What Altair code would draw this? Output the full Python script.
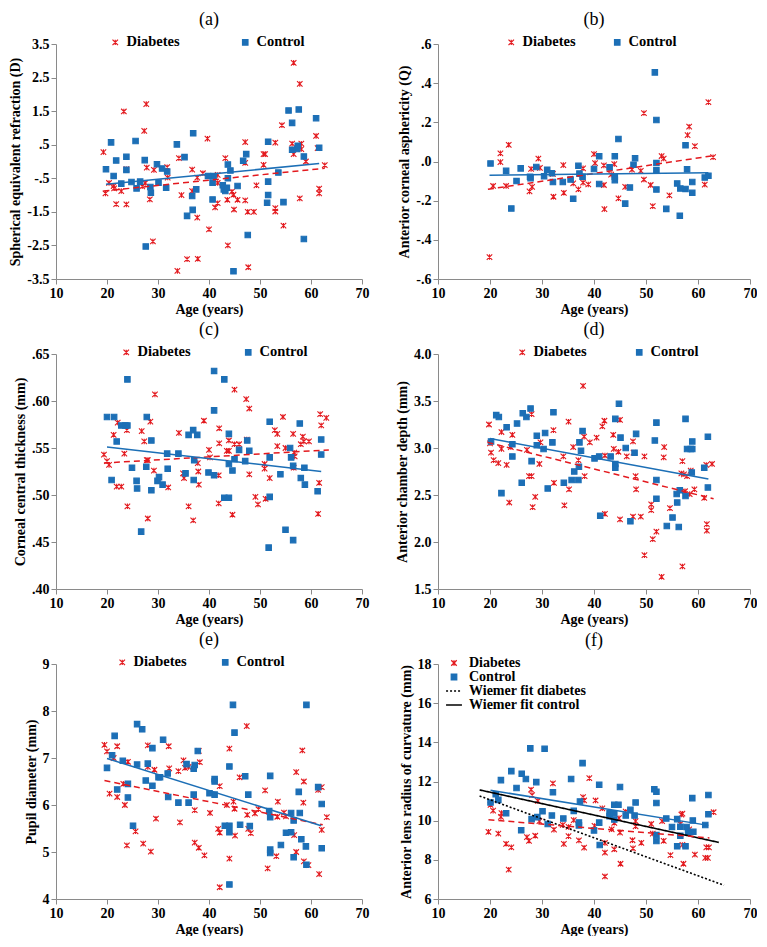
import altair as alt
import pandas as pd

FONT = "Liberation Serif"
RED = "#E3191E"
BLUE = "#1C6FB6"
STAR = "M-1,-1L1,1M-1,1L1,-1M0,-1L0,1"
LINE = "M-2.9,0L2.9,0"
AGE_TICKS = [10, 20, 30, 40, 50, 60, 70]
GROUPS = ["Diabetes", "Control"]
F_GROUPS = ["Diabetes", "Control", "Wiemer fit diabetes", "Wiemer fit control"]

# ---------------- (a) spherical equivalent refraction ----------------
A_TICKS = [-3.5, -2.5, -1.5, -0.5, 0.5, 1.5, 2.5, 3.5]
A_DIAB = [(19.3, 0.28), (19.7, -0.95), (20.4, -0.64), (21.3, -0.73), (21.4, -0.8), (21.8, -1.27),
          (22.8, -0.88), (23.3, 1.49), (23.8, -1.28), (23.8, -0.23), (26.9, -0.74), (27.3, 0.91),
          (27.7, 1.71), (27.8, -0.18), (27.5, -0.64), (28.4, -1.13), (29.0, -2.38), (29.2, -0.25),
          (31.8, -0.17), (31.9, -0.48), (33.8, -3.26), (34.1, 0.1), (34.6, -1.0), (35.7, -2.91),
          (36.7, -0.24), (36.7, -0.88), (37.7, -0.48), (37.7, -1.67), (37.8, -2.9), (38.8, -0.35),
          (39.7, 0.68), (40.0, -2.02), (41.2, -1.37), (41.7, -1.24), (41.7, -0.64), (41.7, -0.4),
          (43.2, 0.1), (43.6, -1.14), (43.7, -2.5), (44.5, -0.9), (44.8, -0.99), (44.9, -1.43),
          (45.6, -1.14), (47.1, -0.04), (47.1, 0.58), (47.1, -1.16), (47.6, -1.5), (47.7, -3.15),
          (48.8, -1.5), (49.3, -0.71), (50.7, 0.22), (51.0, 0.22), (50.7, -0.1), (53.0, 0.56),
          (53.0, -1.39), (53.0, -1.49), (54.3, 1.08), (54.6, -1.91), (56.3, 0.53), (56.6, 0.22),
          (56.6, 2.94), (57.8, -1.1), (57.8, 2.31), (58.1, 0.53), (58.1, 0.37), (59.0, 0.0),
          (61.0, 0.76), (61.3, 0.4), (61.6, -0.81), (61.6, -0.95), (62.7, -0.11)]
A_CTRL = [(19.8, -0.23), (20.8, 0.57), (21.3, -0.43), (21.8, 0.03), (23.8, 0.14), (23.8, -0.25),
          (22.8, -0.66), (24.8, -0.61), (25.6, 0.61), (25.8, -0.8), (26.5, -0.6), (27.4, 0.04),
          (27.6, -2.53), (28.5, -0.76), (28.6, -0.93), (29.8, -0.08), (30.1, -0.63), (30.8, -0.21),
          (31.6, -0.78), (31.8, -0.3), (33.7, 0.51), (35.2, 0.13), (35.7, -1.62), (36.9, 0.84),
          (36.7, -1.03), (36.8, -1.44), (37.5, -0.83), (39.8, -0.43), (40.7, -0.63), (40.7, -1.13),
          (40.9, -0.43), (42.7, -0.71), (42.9, -0.83), (43.2, -0.88), (43.5, -0.78), (43.7, -0.5),
          (43.7, -0.09), (44.2, -0.27), (44.8, -3.27), (45.6, -0.73), (46.7, 0.02), (47.3, 0.22),
          (47.6, -2.19), (51.4, -1.23), (51.6, 0.59), (51.6, -0.6), (51.6, -1.0), (53.6, -0.33),
          (54.6, -1.21), (55.6, 1.52), (56.3, 1.15), (56.3, 0.35), (57.3, 0.37), (57.4, 0.47),
          (57.6, 1.55), (58.6, 0.15), (58.6, -2.31), (61.0, 1.29), (61.6, 0.41)]
A_FIT_DIAB = [(19.3, -0.88), (62.7, -0.20)]
A_FIT_CTRL = [(19.8, -0.68), (61.6, -0.06)]

# ---------------- (b) anterior corneal asphericity ----------------
B_TICKS = [-0.6, -0.4, -0.2, 0.0, 0.2, 0.4, 0.6]
B_DIAB = [(19.9, -0.488), (20.6, -0.125), (22.0, 0.042), (22.0, -0.003), (23.1, -0.125), (23.6, 0.085),
          (27.6, -0.153), (27.9, -0.038), (28.1, -0.13), (29.3, 0.015), (29.6, -0.033), (32.1, -0.063),
          (32.2, -0.18), (34.1, -0.018), (34.2, -0.16), (36.0, -0.112), (37.0, -0.142), (37.9, -0.035),
          (37.9, -0.108), (38.9, -0.117), (40.0, 0.038), (40.2, -0.008), (41.9, -0.02), (41.9, -0.12),
          (42.0, -0.243), (43.3, -0.067), (43.9, -0.013), (44.7, -0.188), (46.0, -0.13), (47.3, -0.042),
          (49.0, -0.048), (49.6, -0.092), (49.6, 0.247), (50.9, -0.12), (51.3, -0.228), (53.0, 0.028),
          (53.4, 0.015), (54.5, -0.173), (58.0, 0.135), (58.3, 0.178), (59.4, 0.078), (61.3, -0.118),
          (62.0, 0.303), (62.9, 0.022)]
B_CTRL = [(20.1, -0.01), (23.1, -0.048), (24.1, -0.24), (25.1, -0.1), (25.9, -0.035), (27.7, -0.078),
          (27.8, -0.085), (28.9, -0.028), (30.4, -0.075), (31.0, -0.042), (31.9, -0.06), (32.1, -0.105),
          (34.0, -0.105), (35.5, -0.092), (36.0, -0.19), (37.0, -0.022), (37.2, -0.062), (37.8, -0.078),
          (40.0, -0.038), (41.0, 0.027), (41.0, -0.115), (43.0, -0.03), (44.0, 0.027), (44.0, -0.078),
          (44.0, -0.095), (44.7, 0.115), (46.0, -0.215), (46.9, -0.133), (47.6, -0.017), (47.9, 0.017),
          (51.7, 0.455), (52.0, 0.212), (52.0, -0.008), (52.0, -0.045), (52.0, -0.143), (53.9, -0.242),
          (56.0, -0.112), (56.5, -0.277), (56.6, -0.138), (57.6, -0.14), (57.6, 0.083), (57.9, -0.04),
          (58.9, -0.105), (58.9, -0.16), (61.3, -0.082), (62.0, -0.073)]
B_FIT_DIAB = [(19.6, -0.142), (63.0, 0.030)]
B_FIT_CTRL = [(19.9, -0.070), (62.0, -0.058)]

# ---------------- (c) corneal central thickness ----------------
C_TICKS = [0.40, 0.45, 0.50, 0.55, 0.60, 0.65]
C_DIAB = [(19.4, 0.543), (20.0, 0.536), (20.4, 0.532), (21.3, 0.564), (21.9, 0.509), (22.1, 0.577),
          (22.8, 0.509), (23.4, 0.544), (23.9, 0.569), (24.0, 0.488), (26.8, 0.568), (27.3, 0.557),
          (27.8, 0.537), (28.0, 0.537), (28.0, 0.475), (28.5, 0.578), (29.2, 0.526), (29.4, 0.607),
          (32.0, 0.508), (34.1, 0.566), (34.9, 0.523), (35.1, 0.518), (36.0, 0.488), (36.9, 0.473),
          (37.8, 0.534), (37.9, 0.525), (38.0, 0.511), (39.0, 0.579), (40.0, 0.548), (40.2, 0.540),
          (41.9, 0.521), (41.9, 0.491), (42.0, 0.571), (42.0, 0.555), (43.5, 0.547), (43.9, 0.547),
          (43.9, 0.558), (44.6, 0.479), (45.0, 0.554), (45.0, 0.612), (45.9, 0.554), (47.3, 0.602),
          (47.4, 0.559), (47.9, 0.592), (47.9, 0.522), (49.1, 0.498), (49.6, 0.490), (50.9, 0.533),
          (50.9, 0.528), (51.1, 0.496), (51.9, 0.518), (52.9, 0.569), (53.4, 0.565), (53.4, 0.552),
          (54.5, 0.583), (55.0, 0.550), (56.5, 0.565), (56.7, 0.545), (56.8, 0.541), (56.6, 0.529),
          (58.0, 0.554), (58.4, 0.562), (58.6, 0.557), (59.6, 0.557), (61.4, 0.480), (61.6, 0.513),
          (61.8, 0.586), (62.0, 0.574), (63.0, 0.582)]
C_CTRL = [(20.0, 0.583), (20.9, 0.516), (21.4, 0.583), (21.9, 0.557), (22.8, 0.574), (23.6, 0.574),
          (24.0, 0.623), (24.0, 0.574), (24.9, 0.529), (25.8, 0.515), (25.9, 0.507), (26.7, 0.461),
          (27.7, 0.530), (27.8, 0.583), (28.7, 0.558), (28.7, 0.505), (29.9, 0.515), (30.2, 0.519),
          (30.9, 0.511), (31.8, 0.544), (31.9, 0.528), (34.0, 0.544), (35.4, 0.523), (36.0, 0.564),
          (36.9, 0.569), (37.0, 0.516), (37.1, 0.537), (37.7, 0.564), (39.9, 0.524), (41.0, 0.590),
          (41.0, 0.521), (41.0, 0.632), (43.0, 0.623), (43.0, 0.497), (43.9, 0.497), (43.9, 0.565),
          (43.9, 0.533), (44.6, 0.526), (45.0, 0.538), (45.9, 0.548), (47.1, 0.536), (47.5, 0.558),
          (47.9, 0.547), (51.7, 0.444), (51.9, 0.578), (51.9, 0.540), (51.9, 0.498), (54.0, 0.522),
          (55.0, 0.463), (55.9, 0.550), (56.1, 0.540), (56.5, 0.531), (56.5, 0.452), (57.8, 0.576),
          (58.0, 0.518), (58.7, 0.529), (58.8, 0.511), (61.3, 0.504), (62.0, 0.559), (62.0, 0.543)]
C_FIT_DIAB = [(19.4, 0.534), (63.5, 0.548)]
C_FIT_CTRL = [(20.0, 0.551), (62.0, 0.525)]

# ---------------- (d) anterior chamber depth ----------------
D_TICKS = [1.5, 2.0, 2.5, 3.0, 3.5, 4.0]
D_DIAB = [(19.8, 3.25), (20.0, 3.05), (20.2, 2.95), (20.7, 2.87), (21.6, 2.84), (22.2, 3.17),
          (22.2, 2.99), (23.2, 2.82), (23.7, 2.42), (24.3, 3.14), (24.0, 3.01), (27.1, 2.98),
          (27.5, 2.70), (28.0, 2.70), (28.0, 3.36), (28.2, 2.37), (28.7, 2.48), (29.5, 2.83),
          (29.7, 3.06), (32.2, 3.19), (32.3, 2.63), (34.1, 2.91), (34.3, 2.39), (35.1, 3.28),
          (35.2, 2.56), (36.0, 3.01), (37.0, 2.87), (37.9, 3.66), (38.1, 3.12), (38.2, 2.70),
          (39.2, 3.06), (40.5, 3.11), (41.6, 3.23), (42.0, 3.29), (42.1, 2.92), (42.1, 2.30),
          (43.7, 3.14), (43.8, 2.99), (44.7, 2.96), (45.0, 3.30), (45.0, 2.24), (46.3, 2.91),
          (47.5, 3.07), (47.6, 2.95), (47.5, 2.27), (48.0, 2.70), (48.1, 2.56), (49.0, 2.27),
          (49.7, 2.91), (49.7, 1.86), (51.0, 2.40), (51.0, 2.34), (51.3, 2.03), (52.0, 2.11),
          (53.0, 1.63), (53.4, 2.90), (53.5, 3.01), (54.6, 2.36), (57.0, 2.86), (57.0, 1.74),
          (56.8, 2.73), (57.3, 2.72), (57.5, 2.54), (57.9, 2.70), (58.4, 2.51), (58.6, 2.76),
          (59.3, 2.56), (61.2, 2.47), (61.7, 2.19), (61.7, 2.12), (61.6, 2.82), (62.7, 2.83)]
D_CTRL = [(20.2, 3.07), (21.2, 3.35), (21.7, 3.33), (22.2, 2.52), (23.2, 3.22), (24.3, 3.04),
          (24.3, 2.91), (25.2, 3.26), (26.1, 2.63), (26.3, 3.37), (27.0, 3.33), (27.8, 3.42),
          (28.0, 2.86), (29.0, 3.03), (29.0, 3.13), (30.3, 2.99), (30.6, 3.16), (31.1, 2.57),
          (32.2, 3.38), (32.0, 3.06), (34.2, 2.63), (35.7, 2.66), (36.2, 2.75), (37.0, 2.66),
          (37.1, 2.80), (37.2, 3.06), (37.5, 2.97), (37.8, 3.18), (40.1, 2.89), (41.0, 2.91),
          (41.2, 2.28), (43.2, 2.91), (44.1, 2.83), (44.1, 2.79), (44.1, 3.31), (44.8, 3.47),
          (45.1, 3.11), (46.1, 3.00), (47.0, 2.22), (47.8, 2.95), (48.1, 3.15), (51.7, 3.08),
          (52.0, 3.27), (52.0, 2.66), (52.0, 2.46), (54.0, 2.17), (55.1, 2.26), (55.9, 2.51),
          (56.0, 2.42), (56.3, 2.16), (56.5, 2.55), (57.6, 3.31), (57.6, 2.49), (57.9, 2.99),
          (58.6, 2.99), (58.9, 2.99), (58.9, 3.07), (58.8, 2.74), (61.2, 2.79), (61.9, 3.12),
          (61.9, 2.58)]
D_FIT_DIAB = [(19.5, 3.06), (63.0, 2.46)]
D_FIT_CTRL = [(20.0, 3.10), (62.0, 2.67)]

# ---------------- (e) pupil diameter ----------------
E_TICKS = [4, 5, 6, 7, 8, 9]
E_DIAB = [(19.5, 7.28), (20.0, 7.14), (20.5, 6.24), (21.3, 7.0), (22.0, 7.25), (22.0, 6.17),
          (23.2, 6.45), (23.5, 6.0), (23.9, 5.14), (24.1, 6.92), (25.6, 5.44), (27.1, 5.18),
          (28.0, 7.27), (28.0, 6.81), (28.6, 5.01), (29.3, 6.75), (29.6, 5.71), (32.1, 7.25),
          (32.2, 6.78), (34.0, 6.72), (34.3, 5.63), (35.0, 6.95), (35.3, 6.79), (36.0, 6.81),
          (37.2, 5.89), (37.2, 5.2), (38.0, 5.09), (38.0, 7.15), (38.2, 6.91), (39.1, 4.93),
          (40.2, 5.83), (42.1, 6.4), (41.8, 5.49), (42.1, 5.41), (42.1, 4.25), (43.5, 6.0),
          (44.0, 4.86), (44.0, 7.2), (44.8, 6.07), (45.0, 5.92), (45.1, 5.35), (46.0, 6.59),
          (47.4, 7.68), (47.5, 5.79), (47.7, 5.49), (48.2, 5.4), (49.0, 5.82), (49.7, 5.91),
          (51.0, 6.31), (51.5, 4.65), (53.2, 4.91), (53.5, 6.07), (53.4, 5.75), (54.7, 5.84),
          (55.1, 5.76), (56.7, 5.36), (57.1, 6.7), (57.1, 5.0), (58.3, 7.16), (58.5, 6.05),
          (58.6, 4.8), (58.6, 6.5), (59.5, 4.72), (61.4, 6.32), (61.6, 4.53), (62.1, 6.38),
          (62.1, 5.47), (63.1, 5.74)]
E_CTRL = [(20.0, 6.79), (21.0, 7.06), (21.5, 7.47), (22.0, 6.33), (23.1, 6.94), (24.1, 6.45),
          (24.1, 6.16), (25.1, 5.56), (25.9, 7.72), (25.9, 6.86), (26.9, 7.61), (27.6, 6.52),
          (28.0, 6.88), (28.9, 7.21), (28.9, 6.41), (30.1, 6.59), (30.4, 6.59), (31.0, 7.39),
          (31.9, 6.67), (32.0, 6.17), (34.0, 6.05), (35.6, 6.87), (36.0, 6.05), (37.0, 6.77),
          (37.0, 6.22), (37.2, 6.85), (37.8, 7.15), (40.1, 6.25), (41.1, 6.55), (41.1, 6.5),
          (41.1, 6.22), (43.1, 5.56), (44.0, 5.56), (44.0, 5.42), (44.0, 6.82), (44.0, 4.31),
          (44.7, 8.13), (45.0, 7.54), (46.1, 5.58), (47.1, 6.61), (47.7, 6.22), (48.0, 5.55),
          (51.8, 5.87), (52.0, 5.05), (52.0, 4.98), (52.0, 5.74), (52.0, 6.62), (54.1, 5.15),
          (55.1, 5.41), (56.1, 5.83), (56.1, 5.42), (56.6, 4.89), (56.6, 5.67), (57.6, 6.28),
          (57.8, 5.83), (58.1, 5.27), (59.0, 5.12), (59.1, 8.13), (59.1, 4.73), (61.4, 6.38),
          (62.1, 6.02), (62.1, 5.08)]
E_FIT_DIAB = [(19.5, 6.52), (62.3, 5.58)]
E_FIT_CTRL = [(20.0, 6.99), (62.0, 5.56)]

# ---------------- (f) anterior lens radius of curvature ----------------
F_TICKS = [6, 8, 10, 12, 14, 16, 18]
F_DIAB = [(19.7, 9.43), (20.1, 10.81), (20.6, 10.51), (21.6, 9.34), (22.1, 10.19), (22.2, 10.39),
          (23.1, 8.82), (23.6, 7.5), (24.1, 8.64), (27.1, 9.16), (27.5, 8.97), (27.9, 11.58),
          (28.1, 11.3), (28.7, 9.23), (29.2, 11.01), (29.5, 9.98), (32.1, 11.9), (32.3, 9.54),
          (34.0, 9.78), (34.2, 8.81), (35.1, 9.68), (35.1, 9.21), (36.1, 10.03), (37.1, 8.99),
          (37.9, 11.2), (38.1, 11.03), (38.1, 8.62), (39.1, 12.17), (40.1, 9.73), (40.3, 11.03),
          (41.6, 10.63), (42.1, 8.86), (42.1, 8.37), (42.1, 7.15), (43.4, 9.56), (43.9, 9.89),
          (43.9, 8.54), (44.8, 10.13), (45.0, 9.39), (45.1, 7.8), (46.1, 10.46), (47.4, 9.0),
          (47.5, 8.59), (48.0, 9.98), (48.0, 9.71), (49.1, 8.87), (51.0, 9.83), (51.3, 9.34),
          (53.1, 9.98), (53.4, 8.97), (54.7, 8.24), (56.6, 9.83), (56.8, 10.31), (57.0, 10.36),
          (57.2, 7.8), (57.0, 8.76), (58.3, 9.56), (59.4, 8.27), (61.4, 8.1), (61.6, 8.64),
          (61.9, 8.1), (62.1, 8.64), (63.0, 10.43)]
F_CTRL = [(20.1, 10.93), (21.1, 11.35), (21.6, 11.06), (22.1, 12.07), (23.1, 10.38), (24.1, 12.53),
          (25.1, 11.67), (26.0, 9.51), (26.1, 12.4), (26.9, 12.13), (27.75, 13.69), (28.0, 10.08),
          (28.9, 11.97), (29.1, 10.18), (30.1, 10.48), (30.5, 13.67), (31.1, 9.83), (31.9, 10.26),
          (32.1, 11.45), (34.1, 10.11), (35.6, 12.13), (36.1, 10.5), (37.1, 9.91), (37.1, 9.76),
          (37.3, 10.98), (37.8, 12.94), (40.0, 9.5), (41.0, 11.83), (41.0, 9.9), (41.1, 8.76),
          (43.0, 10.38), (43.0, 10.23), (43.9, 10.38), (43.9, 10.81), (43.9, 10.06), (44.7, 10.81),
          (45.0, 11.72), (46.1, 10.26), (47.0, 10.55), (48.0, 10.93), (47.8, 10.26), (51.6, 11.6),
          (52.0, 11.48), (52.0, 10.9), (52.0, 9.26), (52.0, 8.96), (53.9, 10.11), (55.0, 9.68),
          (56.0, 10.08), (56.0, 8.69), (56.6, 9.69), (56.6, 9.23), (57.6, 8.69), (57.8, 9.68),
          (58.1, 9.38), (58.9, 11.15), (59.0, 10.01), (59.1, 9.43), (61.4, 9.78), (62.0, 11.31),
          (62.0, 10.33)]
F_FIT_DIAB = [(19.7, 10.05), (62.2, 9.12)]
F_FIT_CTRL = [(20.1, 11.55), (62.0, 9.76)]
F_WIEMER_DIAB = [(18.0, 11.26), (65.0, 6.70)]
F_WIEMER_CTRL = [(18.0, 11.57), (64.0, 8.89)]

LEFT_W, RIGHT_W, PH = 306, 312, 235


def label_expr(d):
    f = f"format(abs(datum.value), '.{d}f')"
    return f"(datum.value < 0 ? '-' : '') + (abs(datum.value) < 1 ? substring({f}, 1) : {f})"


def frame(rows):
    return pd.DataFrame(rows, columns=["age", "value"])


def panel(letter, ytitle, ticks, dec, diab, ctrl, fit_d, fit_c, width, lx=70, cp=40, wiemer=None):
    axis_style = dict(labelFont=FONT, labelFontSize=14, labelFontWeight="bold", labelColor="black",
                      titleFont=FONT, titleFontSize=14, titleFontWeight="bold", titleColor="black")
    x = alt.X("age:Q", scale=alt.Scale(domain=[10, 70], nice=False, zero=False),
              axis=alt.Axis(values=AGE_TICKS, title="Age (years)", format="d", titlePadding=2, **axis_style))
    y = alt.Y("value:Q", scale=alt.Scale(domain=[ticks[0], ticks[-1]], nice=False, zero=False),
              axis=alt.Axis(values=ticks, title=ytitle, labelExpr=label_expr(dec), titlePadding=4, **axis_style))
    rows = [{"age": a, "value": v, "group": "Diabetes"} for a, v in diab] + \
           [{"age": a, "value": v, "group": "Control"} for a, v in ctrl]
    pts = pd.DataFrame(rows)
    leg_style = dict(title=None, orient="none", padding=0, symbolSize=30, labelFont=FONT,
                     labelFontWeight="bold", labelColor="black")
    layers = []
    if wiemer is None:
        dom, cols, shapes = GROUPS, [RED, BLUE], [STAR, "square"]
        leg = alt.Legend(legendX=lx, legendY=-9, direction="horizontal", columnPadding=cp,
                         labelFontSize=14.5, symbolStrokeWidth=1.2, labelOffset=4, **leg_style)
        points = alt.Chart(pts).mark_point(filled=True, opacity=1, strokeWidth=1.1, size=30).encode(
            x=x, y=y,
            color=alt.Color("group:N", scale=alt.Scale(domain=dom, range=cols), legend=leg),
            stroke=alt.Stroke("group:N", scale=alt.Scale(domain=dom, range=cols), legend=leg),
            shape=alt.Shape("group:N", scale=alt.Scale(domain=dom, range=shapes), legend=leg),
        )
        layers.append(points)
    else:
        dom = F_GROUPS
        cols = [RED, BLUE, "black", "black"]
        shapes = [STAR, "square", LINE, LINE]
        dashes = [[1, 0], [1, 0], [2, 2], [1, 0]]
        leg = alt.Legend(legendX=9, legendY=-8, direction="vertical", symbolStrokeWidth=1.3,
                         labelFontSize=14, rowPadding=0, labelOffset=8, **leg_style)
        points = alt.Chart(pts).mark_point(filled=True, opacity=1, strokeWidth=1.1, size=30).encode(
            x=x, y=y,
            color=alt.Color("group:N", scale=alt.Scale(domain=dom, range=cols), legend=leg),
            stroke=alt.Stroke("group:N", scale=alt.Scale(domain=dom, range=cols), legend=leg),
            shape=alt.Shape("group:N", scale=alt.Scale(domain=dom, range=shapes), legend=leg),
        )
        wrows = [{"age": a, "value": v, "group": "Wiemer fit diabetes"} for a, v in wiemer[0]] + \
                [{"age": a, "value": v, "group": "Wiemer fit control"} for a, v in wiemer[1]]
        wl = alt.Chart(pd.DataFrame(wrows)).mark_line(strokeWidth=1.6).encode(
            x=x, y=y,
            stroke=alt.Stroke("group:N", scale=alt.Scale(domain=dom, range=cols), legend=leg),
            strokeDash=alt.StrokeDash("group:N", scale=alt.Scale(domain=dom, range=dashes), legend=leg),
        )
        layers += [points, wl]
    fd = alt.Chart(frame(fit_d)).mark_line(color=RED, strokeDash=[6, 4], strokeWidth=1.5).encode(x=x, y=y)
    fc = alt.Chart(frame(fit_c)).mark_line(color=BLUE, strokeWidth=1.5).encode(x=x, y=y)
    layers += [fd, fc]
    return alt.layer(*layers).properties(
        width=width, height=PH,
        title=alt.TitleParams(letter, font=FONT, fontSize=18, fontWeight="normal", color="black",
                              anchor="middle", offset=6))


pa = panel("(a)", "Spherical equivalent refraction (D)", A_TICKS, 1, A_DIAB, A_CTRL, A_FIT_DIAB, A_FIT_CTRL,
           LEFT_W, lx=52, cp=58)
pb = panel("(b)", "Anterior corneal asphericity  (Q)", B_TICKS, 1, B_DIAB, B_CTRL, B_FIT_DIAB, B_FIT_CTRL,
           RIGHT_W, lx=66, cp=34)
pc = panel("(c)", "Corneal central thickness (mm)", C_TICKS, 2, C_DIAB, C_CTRL, C_FIT_DIAB, C_FIT_CTRL,
           LEFT_W, lx=63, cp=50)
pd_ = panel("(d)", "Anterior chamber depth (mm)", D_TICKS, 1, D_DIAB, D_CTRL, D_FIT_DIAB, D_FIT_CTRL,
            RIGHT_W, lx=77, cp=45)
pe = panel("(e)", "Pupil diameter (mm)", E_TICKS, 0, E_DIAB, E_CTRL, E_FIT_DIAB, E_FIT_CTRL,
           LEFT_W, lx=59, cp=31)
pf = panel("(f)", "Anterior lens radius of curvature (mm)", F_TICKS, 0, F_DIAB, F_CTRL, F_FIT_DIAB, F_FIT_CTRL,
           RIGHT_W, wiemer=(F_WIEMER_DIAB, F_WIEMER_CTRL))

chart = alt.concat(pa, pb, pc, pd_, pe, pf, columns=2, align="each",
                   spacing={"row": 5, "column": 26}).resolve_scale(
    color="independent", stroke="independent", shape="independent",
    strokeDash="independent", x="independent", y="independent"
).properties(padding={"top": 3, "left": 0, "right": 0, "bottom": 0}).configure_axis(
    grid=False, domainColor="#8a8a8a", tickColor="#8a8a8a", domainWidth=1, tickWidth=1, tickSize=5,
    labelPadding=2, labelFlush=False, labelOverlap=False,
).configure_view(stroke=None)

chart.save("out.html", embed_options={"renderer": "svg", "actions": False})
